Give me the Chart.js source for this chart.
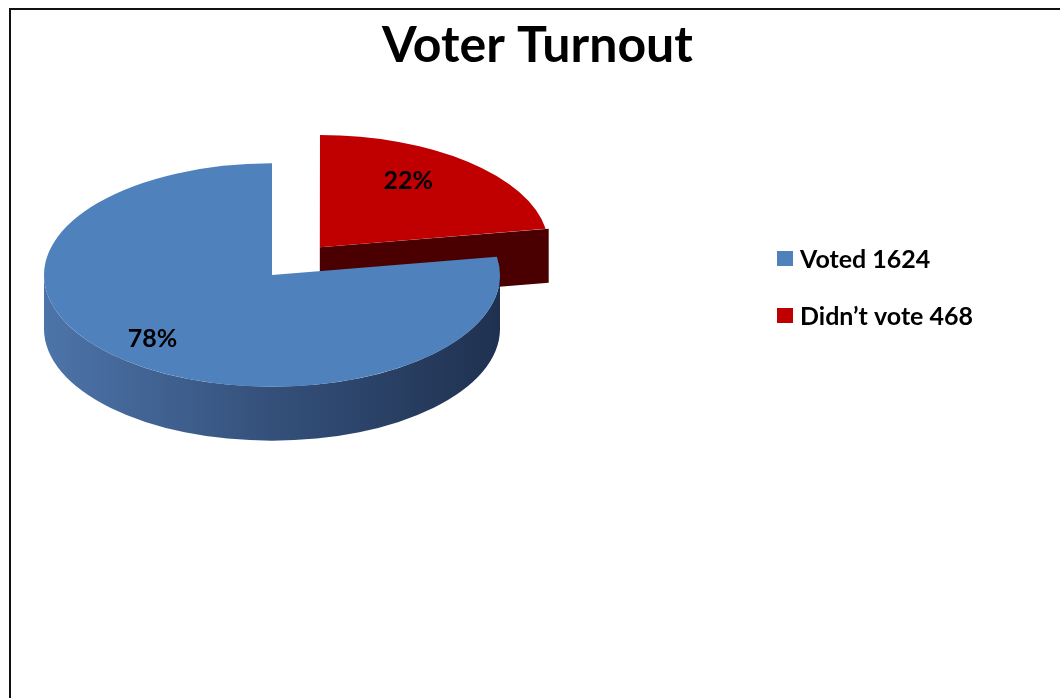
<!DOCTYPE html>
<html><head><meta charset="utf-8">
<script src="https://cdn.jsdelivr.net/npm/chart.js@4.4.0/dist/chart.umd.min.js"></script>
<style>
html,body{margin:0;padding:0;background:#fff;overflow:hidden;}
#wrap{position:relative;width:1060px;height:698px;}
#frame{position:absolute;left:9px;top:8px;width:1100px;height:760px;border-left:2px solid #111;border-top:2px solid #111;box-shadow:-1px -1px 0 #777 inset;}
canvas{position:absolute;left:0;top:0;}
</style></head><body>
<div id="wrap"><div id="frame"></div><canvas id="c" width="1060" height="698"></canvas></div>
<script>
// ---- data ----
const categories = ['Voted', 'Didn\u2019t vote'];
const voteCounts = [1624, 468];
const chartTitle = 'Voter Turnout';

// ---- styles ----
const topColors = ['#4F81BD', '#C00000'];
const sideLight = ['#4D74A9', '#4A0000'];
const sideDark  = ['#1F3150', '#4A0000'];
const faceColors = ['#2E4A72', '#4A0000'];
const FONT = 'Lato, "Open Sans", sans-serif';

// ---- 3D projection settings ----
const PIE_CX = 272, PIE_CY = 275, TILT = 0.49, DEPTH = 54;
const LABEL_TILT = 0.53, LABEL_SHIFT = -11;

const totalVotes = voteCounts.reduce((a, b) => a + b, 0);

function geom(el) {
  const p = el.getProps(['x','y','startAngle','endAngle','outerRadius','circumference'], true);
  const off = el.options.offset || 0;
  const half = (p.startAngle + p.endAngle) / 2;
  const ox = p.x + Math.cos(half) * off / 4;
  const oy = p.y + Math.sin(half) * off / 4;
  const R = p.outerRadius + off * (1 - Math.sin(Math.min(Math.PI, p.circumference || 0)));
  return {
    cx: PIE_CX + (ox - p.x),
    cy: PIE_CY + (oy - p.y) * TILT,
    R, s: p.startAngle, e: p.endAngle, half
  };
}

const pie3d = {
  id: 'pie3d',
  beforeDatasetsDraw(chart) {
    const ctx = chart.ctx;
    const meta = chart.getDatasetMeta(0);
    const els = meta.data.map((el, i) => ({el, i, g: geom(el)}));
    els.sort((a, b) => a.g.cy - b.g.cy);
    ctx.save();
    for (const {i, g} of els) {
      // radial cut faces
      const faces = [];
      if (Math.cos(g.e) > 0.001) faces.push(g.e);
      if (Math.cos(g.s) < -0.001) faces.push(g.s);
      for (const a of faces) {
        const rx = g.cx + g.R * Math.cos(a), ry = g.cy + g.R * TILT * Math.sin(a);
        ctx.beginPath();
        ctx.moveTo(g.cx, g.cy);
        ctx.lineTo(rx, ry);
        ctx.lineTo(rx, ry + DEPTH);
        ctx.lineTo(g.cx, g.cy + DEPTH);
        ctx.closePath();
        ctx.fillStyle = faceColors[i];
        ctx.fill();
      }
      // outer rim (front facing part only)
      for (let k = -1; k <= 1; k++) {
        const lo = Math.max(g.s, 2 * Math.PI * k);
        const hi = Math.min(g.e, 2 * Math.PI * k + Math.PI);
        if (hi - lo <= 0.0001) continue;
        ctx.beginPath();
        ctx.ellipse(g.cx, g.cy, g.R, g.R * TILT, 0, lo, hi, false);
        ctx.ellipse(g.cx, g.cy + DEPTH, g.R, g.R * TILT, 0, hi, lo, true);
        ctx.closePath();
        const grad = ctx.createLinearGradient(g.cx - g.R, 0, g.cx + g.R, 0);
        grad.addColorStop(0, sideLight[i]);
        grad.addColorStop(0.5, '#34507A');
        grad.addColorStop(1, sideDark[i]);
        ctx.fillStyle = i === 0 ? grad : sideDark[i];
        ctx.fill();
      }
    }
    ctx.restore();
    // project the library's own arcs onto the tilted plane
    const el0 = meta.data[0];
    ctx.save();
    ctx.translate(PIE_CX, PIE_CY);
    ctx.scale(1, TILT);
    ctx.translate(-el0.x, -el0.y);
  },
  afterDatasetsDraw(chart) {
    const ctx = chart.ctx;
    ctx.restore();
    const meta = chart.getDatasetMeta(0);
    ctx.save();
    ctx.font = 'bold 25px ' + FONT;
    ctx.fillStyle = '#000';
    ctx.textAlign = 'center';
    ctx.textBaseline = 'middle';
    meta.data.forEach((el, i) => {
      const g = geom(el);
      const share = voteCounts[i] / totalVotes;
      const f = 0.5 + 0.4 * share;
      const x = g.cx + Math.cos(g.half) * g.R * f;
      const y = g.cy + Math.sin(g.half) * g.R * f * LABEL_TILT + LABEL_SHIFT;
      ctx.fillText(Math.round(share * 100) + '%', x, y);
    });
    ctx.restore();
  },
  afterDraw(chart) {
    const ctx = chart.ctx;
    ctx.save();
    ctx.font = 'bold 25px ' + FONT;
    ctx.textBaseline = 'middle';
    ctx.textAlign = 'left';
    categories.forEach((c, i) => {
      const y = 259 + i * 57;
      ctx.fillStyle = topColors[i];
      ctx.fillRect(777, y - 8, 16, 15);
      ctx.fillStyle = '#000';
      ctx.fillText(c + ' ' + voteCounts[i], 800, y + 1);
    });
    ctx.restore();
  }
};

new Chart(document.getElementById('c'), {
  type: 'pie',
  data: {
    labels: categories,
    datasets: [{
      data: voteCounts,
      backgroundColor: topColors,
      borderWidth: 0,
      offset: [0, 296],
      clip: false
    }]
  },
  options: {
    responsive: false,
    animation: false,
    radius: 228,
    rotation: voteCounts[1] / totalVotes * 360,
    layout: { padding: { left: 15, right: 0, top: 0, bottom: 0 } },
    plugins: {
      legend: { display: false },
      tooltip: { enabled: false },
      title: {
        display: true,
        text: chartTitle,
        color: '#000',
        font: { family: FONT, size: 50, weight: 'bold' },
        padding: { top: 16, bottom: 10 }
      }
    }
  },
  plugins: [pie3d]
});
</script>
</body></html>
